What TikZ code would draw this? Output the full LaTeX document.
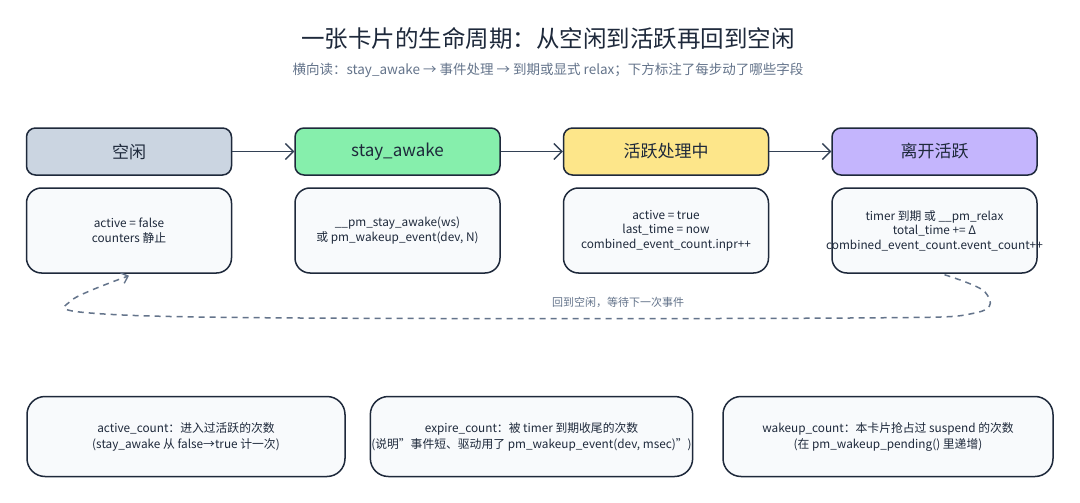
\documentclass[tikz,border=0pt]{standalone}
\usepackage{fontspec}
\setmainfont{Noto Sans CJK SC}
\usetikzlibrary{arrows.meta}
\definecolor{ink}{HTML}{1E293B}
\definecolor{arrowc}{HTML}{334155}
\definecolor{grayc}{HTML}{64748B}
\definecolor{idlec}{HTML}{CBD5E1}
\definecolor{awakec}{HTML}{86EFAC}
\definecolor{activec}{HTML}{FDE68A}
\definecolor{leavec}{HTML}{C4B5FD}
\definecolor{paper}{HTML}{F8FAFC}
\tikzset{
  head/.style={draw=ink, line width=1.5pt, rounded corners=9pt, minimum width=205pt, minimum height=47pt, font=\fontsize{17}{20}\selectfont, text=ink},
  detail/.style={draw=ink, line width=1.5pt, fill=paper, rounded corners=15pt, minimum width=205pt, minimum height=85pt, inner xsep=1pt, align=center, font=\fontsize{11.8}{14.5}\selectfont, text=ink},
  note/.style={draw=ink, line width=1.5pt, fill=paper, rounded corners=18pt, minimum height=80pt, inner xsep=1pt, align=center, font=\fontsize{11.8}{16}\selectfont, text=ink},
  flow/.style={draw=arrowc, line width=1.4pt, -{Straight Barb[length=8pt,width=16pt,line width=1.4pt]}},
  loopline/.style={draw=grayc, line width=1.5pt, dashed, dash pattern=on 6pt off 5pt, -{Straight Barb[length=6pt,width=11pt,line width=1.4pt]}}
}
\begin{document}
\begin{tikzpicture}[x=1pt,y=-1pt]
\useasboundingbox[fill=white] (0,0) rectangle (1080,503);
\node[text=ink, font=\fontsize{23.5}{26}\selectfont] (title) at (548,38) {一张卡片的生命周期：从空闲到活跃再回到空闲};
\node[text=grayc, font=\fontsize{13.5}{16}\selectfont] (sub) at (548,70) {横向读：stay\_awake → 事件处理 → 到期或显式 relax；下方标注了每步动了哪些字段};

\node[head, fill=idlec] (h1) at (129,151.5) {空闲};
\node[head, fill=awakec] (h2) at (397.5,151.5) {stay\_awake};
\node[head, fill=activec] (h3) at (666,151.5) {活跃处理中};
\node[head, fill=leavec] (h4) at (934.5,151.5) {离开活跃};

\draw[flow] (h1) -- (h2);
\draw[flow] (h2) -- (h3);
\draw[flow] (h3) -- (h4);

\node[detail] (d1) at (129,230.5) {active = false\\counters 静止};
\node[detail] (d2) at (397.5,230.5) {\_\_pm\_stay\_awake(ws)\\或 pm\_wakeup\_event(dev, N)};
\node[detail] (d3) at (666,230.5) {active = true\\last\_time = now\\combined\_event\_count.inpr++};
\node[detail] (d4) at (934.5,230.5) {timer 到期 或 \_\_pm\_relax\\total\_time += Δ\\\makebox[0pt]{combined\_event\_count.event\_count++}};

\coordinate (ls) at ([xshift=10pt,yshift=-1pt]d4.south);
\coordinate (le) at ([yshift=-2pt]d1.south);
\draw[loopline] plot[smooth, tension=0.6] coordinates {(ls) (985,292) (975,313) (850,318) (300,318) (90,313) (72,300) (le)};
\node[text=grayc, font=\fontsize{11}{13}\selectfont] (back) at (618,302) {回到空闲，等待下一次事件};

\node[note, minimum width=318pt] (n1) at (186,436.5) {active\_count：进入过活跃的次数\\(stay\_awake 从 false→true 计一次)};
\node[note, minimum width=317pt] (n2) at (531.5,436.5) {expire\_count：被 timer 到期收尾的次数\\(说明"事件短、驱动用了 pm\_wakeup\_event(dev, msec)")};
\node[note, minimum width=330pt] (n3) at (888,436.5) {wakeup\_count：本卡片抢占过 suspend 的次数\\(在 pm\_wakeup\_pending() 里递增)};
\end{tikzpicture}
\end{document}
